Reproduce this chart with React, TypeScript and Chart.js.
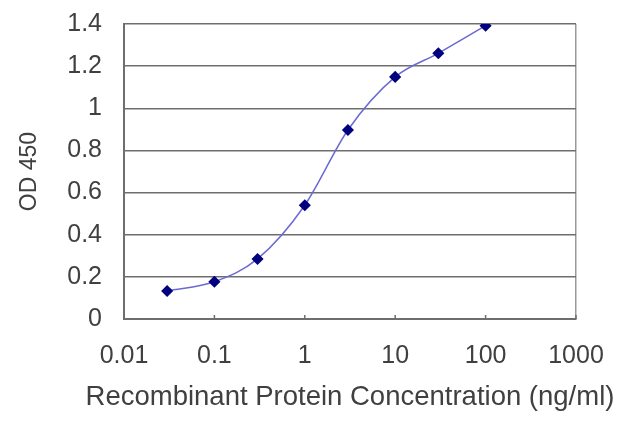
import React, { useRef, useEffect } from 'react';
import { Chart, registerables } from 'chart.js';

Chart.register(...registerables);

// concentration (ng/ml) vs OD 450
const concentrations = [0.03, 0.1, 0.3, 1, 3, 10, 30, 100];
const odValues = [0.133, 0.177, 0.285, 0.54, 0.897, 1.149, 1.261, 1.392];
const xTickValues = [0.01, 0.1, 1, 10, 100, 1000];
const xTitle = 'Recombinant Protein Concentration (ng/ml)';
const yTitle = 'OD 450';

const textColor = '#404040';
const gridColor = '#6e6e6e';
const fontFamily = '"Liberation Sans", Arial, sans-serif';

// short tick marks pointing up into the plot, like the original
const innerTicks = {
  id: 'innerTicks',
  afterDatasetsDraw(chart: any) {
    const { ctx, scales, chartArea } = chart;
    const x = scales.x;
    ctx.save();
    ctx.strokeStyle = gridColor;
    ctx.lineWidth = 1.5;
    xTickValues.forEach((v) => {
      const px = x.getPixelForValue(v);
      ctx.beginPath();
      ctx.moveTo(px, chartArea.bottom);
      ctx.lineTo(px, chartArea.bottom - 4);
      ctx.stroke();
    });
    ctx.restore();
  },
};

// the x title is wider than the plot, and the built-in scale title
// squeezes itself to the plot width, so it is drawn here instead
const wideXTitle = {
  id: 'wideXTitle',
  afterDraw(chart: any) {
    const { ctx, chartArea } = chart;
    ctx.save();
    ctx.font = `27.5px ${fontFamily}`;
    ctx.fillStyle = textColor;
    ctx.textAlign = 'center';
    ctx.textBaseline = 'middle';
    ctx.fillText(xTitle, (chartArea.left + chartArea.right) / 2, chartArea.bottom + 78);
    ctx.restore();
  },
};

const App: React.FC = () => {
  const canvasRef = useRef<HTMLCanvasElement | null>(null);

  useEffect(() => {
    if (!canvasRef.current) return;

    const chart = new Chart(canvasRef.current, {
      type: 'line',
      data: {
        datasets: [
          {
            data: concentrations.map((c, i) => ({ x: c, y: odValues[i] })),
            borderColor: '#6a6ad2',
            borderWidth: 1.5,
            backgroundColor: '#000080',
            pointBackgroundColor: '#000080',
            pointBorderColor: '#000080',
            pointStyle: 'rectRot',
            pointRadius: 5,
            cubicInterpolationMode: 'monotone',
            fill: false,
          },
        ],
      },
      options: {
        responsive: false,
        animation: false,
        layout: { padding: { top: 24, right: 64, left: 0, bottom: 0 } },
        plugins: {
          legend: { display: false },
          tooltip: { enabled: false },
        },
        scales: {
          x: {
            type: 'logarithmic',
            min: 0.01,
            max: 1000,
            afterBuildTicks: (scale: any) => {
              scale.ticks = xTickValues.map((v) => ({ value: v }));
            },
            afterFit: (scale: any) => {
              scale.height = 108;
            },
            ticks: {
              color: textColor,
              font: { family: fontFamily, size: 25 },
              padding: 22,
              maxRotation: 0,
              autoSkip: false,
              callback: (value: any) => String(value),
            },
            grid: {
              drawTicks: false,
              color: (ctx: any) =>
                ctx.tick && ctx.tick.value === 1000 ? '#9a9a9a' : 'rgba(0,0,0,0)',
              lineWidth: 1.5,
            },
            border: { color: gridColor, width: 2 },
          },
          y: {
            min: 0,
            max: 1.4,
            afterFit: (scale: any) => {
              scale.width = 124;
              scale.paddingTop = 0;
              scale.paddingBottom = 0;
            },
            ticks: {
              stepSize: 0.2,
              color: textColor,
              font: { family: fontFamily, size: 25 },
              padding: 22,
              callback: (value: any) => String(Number(Number(value).toFixed(1))),
            },
            grid: {
              drawTicks: false,
              color: gridColor,
              lineWidth: 1.5,
            },
            border: { color: gridColor, width: 2 },
            title: {
              display: true,
              text: yTitle,
              color: textColor,
              font: { family: fontFamily, size: 23 },
              padding: { top: 16, bottom: 0 },
            },
          },
        },
      },
      plugins: [innerTicks, wideXTitle],
    });

    return () => {
      chart.destroy();
    };
  }, []);

  return (
    <div style={{ position: 'fixed', top: 0, left: 0, width: 640, height: 427, background: '#fff' }}>
      <canvas ref={canvasRef} width={640} height={427} />
    </div>
  );
};

export default App;
